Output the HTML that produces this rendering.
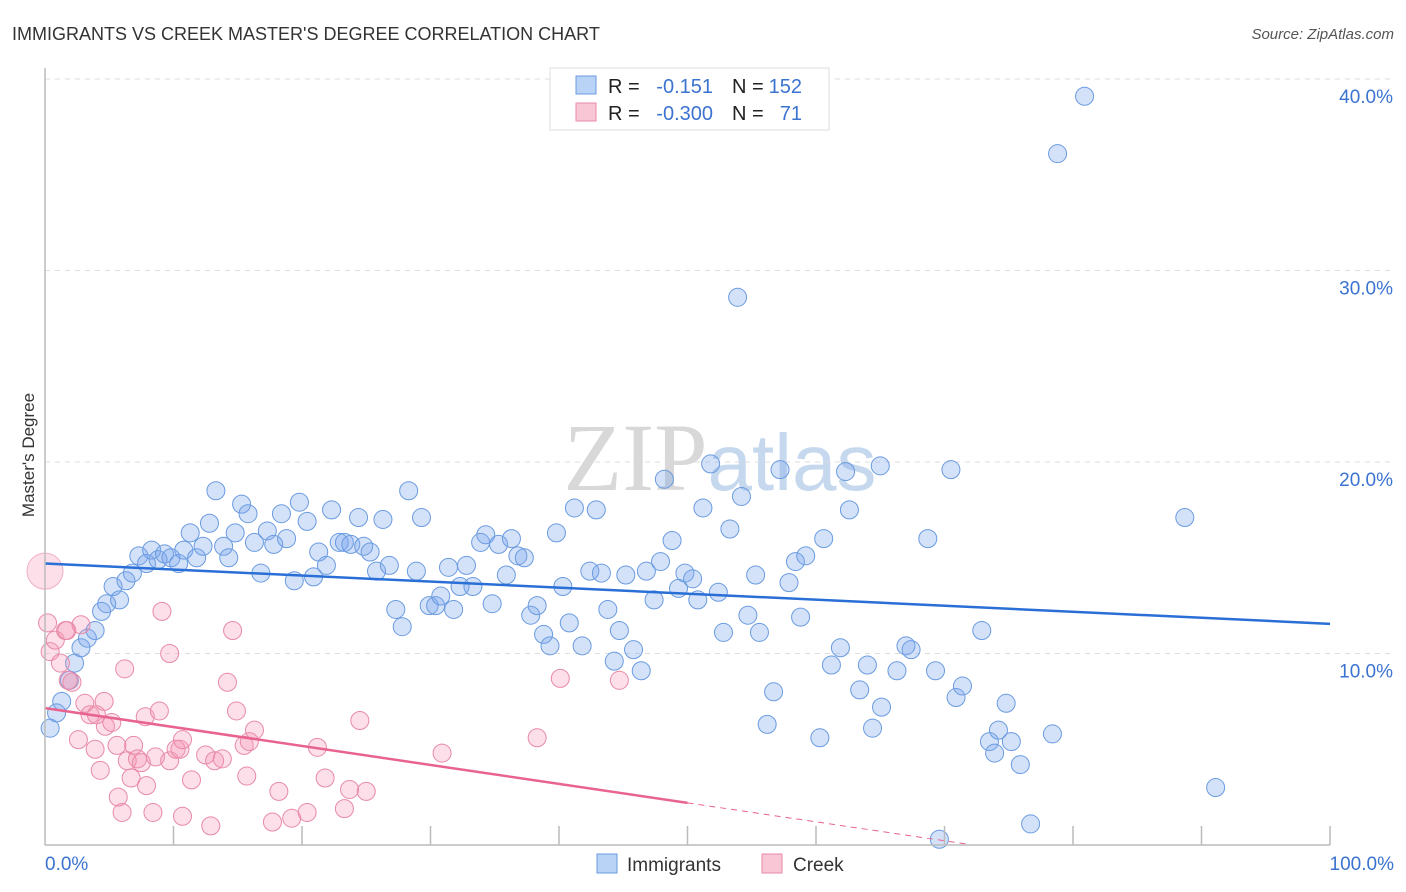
<!DOCTYPE html>
<html><head><meta charset="utf-8"><style>
body{margin:0;background:#fff;font-family:"Liberation Sans",sans-serif;}
#wrap{position:relative;width:1406px;height:892px;overflow:hidden;}
</style></head><body>
<div id="wrap">
<svg id="chart" width="1406" height="892" xmlns="http://www.w3.org/2000/svg">
<text x="12" y="40" font-size="18" fill="#333">IMMIGRANTS VS CREEK MASTER'S DEGREE CORRELATION CHART</text>
<text x="1394" y="39" font-size="15" fill="#555" font-style="italic" text-anchor="end">Source: ZipAtlas.com</text>
<text x="720" y="490" font-size="96" fill="#d8d8d8" text-anchor="middle" font-family="Liberation Serif,serif"><tspan>ZIP</tspan><tspan fill="#c6d8ee" font-family="Liberation Sans,sans-serif" font-size="80">atlas</tspan></text>
<text transform="translate(34,455) rotate(-90)" font-size="17" fill="#333" text-anchor="middle">Master's Degree</text>
<g id="grid"></g><g id="pts"></g><g id="lines"></g><g id="axes"></g>
<g>
<rect x="550" y="68" width="279" height="62" fill="#fff" stroke="#ddd"/>
<rect x="576" y="76" width="20" height="18" fill="#b8d3f5" stroke="#6a9be0"/>
<rect x="576" y="103" width="20" height="18" fill="#f9c6d5" stroke="#e88aa8"/>
<text x="608" y="93" font-size="20" fill="#222">R =</text><text x="713" y="93" font-size="20" fill="#3b73d1" text-anchor="end">-0.151</text>
<text x="732" y="93" font-size="20" fill="#222">N =</text><text x="802" y="93" font-size="20" fill="#3b73d1" text-anchor="end">152</text>
<text x="608" y="120" font-size="20" fill="#222">R =</text><text x="713" y="120" font-size="20" fill="#3b73d1" text-anchor="end">-0.300</text>
<text x="732" y="120" font-size="20" fill="#222">N =</text><text x="802" y="120" font-size="20" fill="#3b73d1" text-anchor="end">71</text>
</g>
<g>
<rect x="597" y="854" width="20" height="19" fill="#b8d3f5" stroke="#6a9be0"/>
<text x="627" y="871" font-size="19" fill="#333">Immigrants</text>
<rect x="762" y="854" width="20" height="19" fill="#f9c6d5" stroke="#e88aa8"/>
<text x="793" y="871" font-size="19" fill="#333">Creek</text>
</g>
</svg>
</div>
<script>
const yTicks=[10,20,30,40];
const yTickLabels=["10.0%","20.0%","30.0%","40.0%"];
const xTicks=[10,20,30,40,50,60,70,80,90,100];
const immX=[0.4,0.9,1.3,1.9,2.3,2.8,3.3,3.9,4.4,4.8,5.3,5.8,6.3,6.8,7.3,7.9,8.3,8.8,9.3,9.8,10.4,10.8,11.3,11.8,12.3,12.8,13.3,13.9,14.3,14.8,15.3,15.8,16.3,16.8,17.3,17.8,18.4,18.8,19.4,19.8,20.4,20.9,21.3,21.9,22.3,22.9,23.3,23.8,24.4,24.8,25.3,25.8,26.3,26.8,27.3,27.8,28.3,28.9,29.3,29.9,30.4,30.8,31.4,31.8,32.3,32.8,33.3,33.9,34.3,34.8,35.3,35.9,36.3,36.8,37.3,37.8,38.3,38.8,39.3,39.8,40.3,40.8,41.2,41.8,42.4,42.9,43.3,43.8,44.3,44.7,45.2,45.8,46.4,46.8,47.4,47.9,48.2,48.8,49.3,49.8,50.4,50.8,51.2,51.8,52.4,52.8,53.3,53.9,54.2,54.7,55.3,55.6,56.2,56.7,57.2,57.9,58.4,58.8,59.2,60.3,60.6,61.2,61.9,62.3,62.6,63.4,64.0,64.4,65.0,65.1,66.3,67.0,67.4,68.7,69.3,69.6,70.5,70.9,71.4,72.9,73.5,73.9,74.2,74.8,75.2,75.9,76.7,78.4,78.8,80.9,88.7,91.1];
const immY=[6.1,6.9,7.5,8.6,9.5,10.3,10.8,11.2,12.2,12.6,13.5,12.8,13.8,14.2,15.1,14.7,15.4,14.9,15.2,15.0,14.7,15.4,16.3,15.0,15.6,16.8,18.5,15.6,15.0,16.3,17.8,17.3,15.8,14.2,16.4,15.7,17.3,16.0,13.8,17.9,16.9,14.0,15.3,14.6,17.5,15.8,15.8,15.7,17.1,15.6,15.3,14.3,17.0,14.6,12.3,11.4,18.5,14.3,17.1,12.5,12.5,13.0,14.5,12.3,13.5,14.6,13.5,15.8,16.2,12.6,15.7,14.1,16.0,15.1,15.0,12.0,12.5,11.0,10.4,16.3,13.5,11.6,17.6,10.4,14.3,17.5,14.2,12.3,9.6,11.2,14.1,10.2,9.1,14.3,12.8,14.8,19.1,15.9,13.4,14.2,13.9,12.8,17.6,19.9,13.2,11.1,16.5,28.6,18.2,12.0,14.1,11.1,6.3,8.0,19.6,13.7,14.8,11.9,15.1,5.6,16.0,9.4,10.3,19.5,17.5,8.1,9.4,6.1,19.8,7.2,9.1,10.4,10.2,16.0,9.1,0.3,19.6,7.7,8.3,11.2,5.4,4.8,6.0,7.4,5.4,4.2,1.1,5.8,36.1,39.1,17.1,3.0];
const creekX=[0.2,0.4,0.8,1.2,1.6,1.7,2.1,1.8,2.6,2.8,3.1,3.5,3.9,4.0,4.3,4.6,4.7,5.2,5.6,5.7,6.0,6.2,6.4,6.7,6.9,7.2,7.5,7.8,7.9,8.4,8.6,8.9,9.1,9.7,9.7,10.2,10.5,10.7,10.7,11.4,12.5,12.9,13.2,13.8,14.2,14.6,14.9,15.5,15.7,15.9,16.3,17.7,18.2,19.2,20.4,21.2,21.8,23.3,23.7,24.5,25.0,30.9,38.3,40.1,44.7];
const creekY=[11.6,10.1,10.7,9.5,11.2,11.2,8.5,8.6,5.5,11.5,7.4,6.8,5.0,6.8,3.9,7.5,6.2,6.4,5.2,2.5,1.7,9.2,4.4,3.5,5.2,4.5,4.3,6.7,3.1,1.7,4.6,7.0,12.2,10.0,4.4,5.0,5.0,5.5,1.5,3.4,4.7,1.0,4.4,4.5,8.5,11.2,7.0,5.2,3.6,5.4,6.0,1.2,2.8,1.4,1.7,5.1,3.5,1.9,2.9,6.5,2.8,4.8,5.6,8.7,8.6];
const creekBigX=[0];const creekBigY=[14.3];
const immTrend=[14.7,11.55];
const creekTrend=[7.15,-0.099];
const NS="http://www.w3.org/2000/svg";
const sx=v=>45+v*12.85, sy=v=>845-v*19.15;
function mk(tag,attrs,parent){const e=document.createElementNS(NS,tag);for(const k in attrs)e.setAttribute(k,attrs[k]);parent.appendChild(e);return e;}
const grid=document.getElementById('grid'),pts=document.getElementById('pts'),lines=document.getElementById('lines'),axes=document.getElementById('axes');
yTicks.forEach((t,i)=>{
 const g=mk('line',{x1:45,x2:1394,y1:sy(t),y2:sy(t),stroke:'#ddd','stroke-dasharray':'5,5'},grid);
 
 
 const l=mk('text',{x:1393,y:sy(t)+24,'font-size':19,fill:'#3b73d1','text-anchor':'end'},axes);
 l.textContent=yTickLabels[i];
 
 
});
const tg=mk('line',{x1:45,x2:1394,y1:sy(40),y2:sy(40),stroke:'#ddd','stroke-dasharray':'5,5'},grid);
const ax=mk('line',{x1:45,x2:1330,y1:845,y2:845,stroke:'#bbb','stroke-width':1.5},axes);


const ay=mk('line',{x1:45,x2:45,y1:68,y2:845,stroke:'#bbb','stroke-width':1.5},axes);


xTicks.forEach(t=>{const k=mk('line',{x1:sx(t),x2:sx(t),y1:826,y2:845,stroke:'#bbb','stroke-width':1.5},axes);
 
 });
const x0=mk('text',{x:45,y:870,'font-size':19,fill:'#3b73d1'},axes);x0.textContent='0.0%';


const x1=mk('text',{x:1394,y:870,'font-size':19,fill:'#3b73d1','text-anchor':'end'},axes);x1.textContent='100.0%';


immX.forEach((x,i)=>{const c=mk('circle',{cx:sx(x),cy:sy(immY[i]),r:9,fill:'rgba(120,165,235,0.32)',stroke:'#6a9be0','stroke-width':1},pts);
 
 });
creekX.forEach((x,i)=>{const c=mk('circle',{cx:sx(x),cy:sy(creekY[i]),r:9,fill:'rgba(245,150,180,0.3)',stroke:'#e88aa8','stroke-width':1},pts);
 
 });
creekBigX.forEach((x,i)=>{const c=mk('circle',{cx:sx(x),cy:sy(creekBigY[i]),r:18,fill:'rgba(245,150,180,0.3)',stroke:'#f0b0c4','stroke-width':1},pts);
 
 });
const bl=mk('line',{x1:sx(0),y1:sy(immTrend[0]),x2:sx(100),y2:sy(immTrend[1]),stroke:'#2a6fd6','stroke-width':2.5},lines);


const cy=x=>creekTrend[0]+creekTrend[1]*x;
const pl=mk('line',{x1:sx(0),y1:sy(cy(0)),x2:sx(50),y2:sy(cy(50)),stroke:'#e8638f','stroke-width':2.5},lines);


const pd=mk('line',{x1:sx(50),y1:sy(cy(50)),x2:sx(72),y2:sy(cy(72)),stroke:'#e8638f','stroke-width':1,'stroke-dasharray':'6,5'},lines);


</script>
</body></html>
